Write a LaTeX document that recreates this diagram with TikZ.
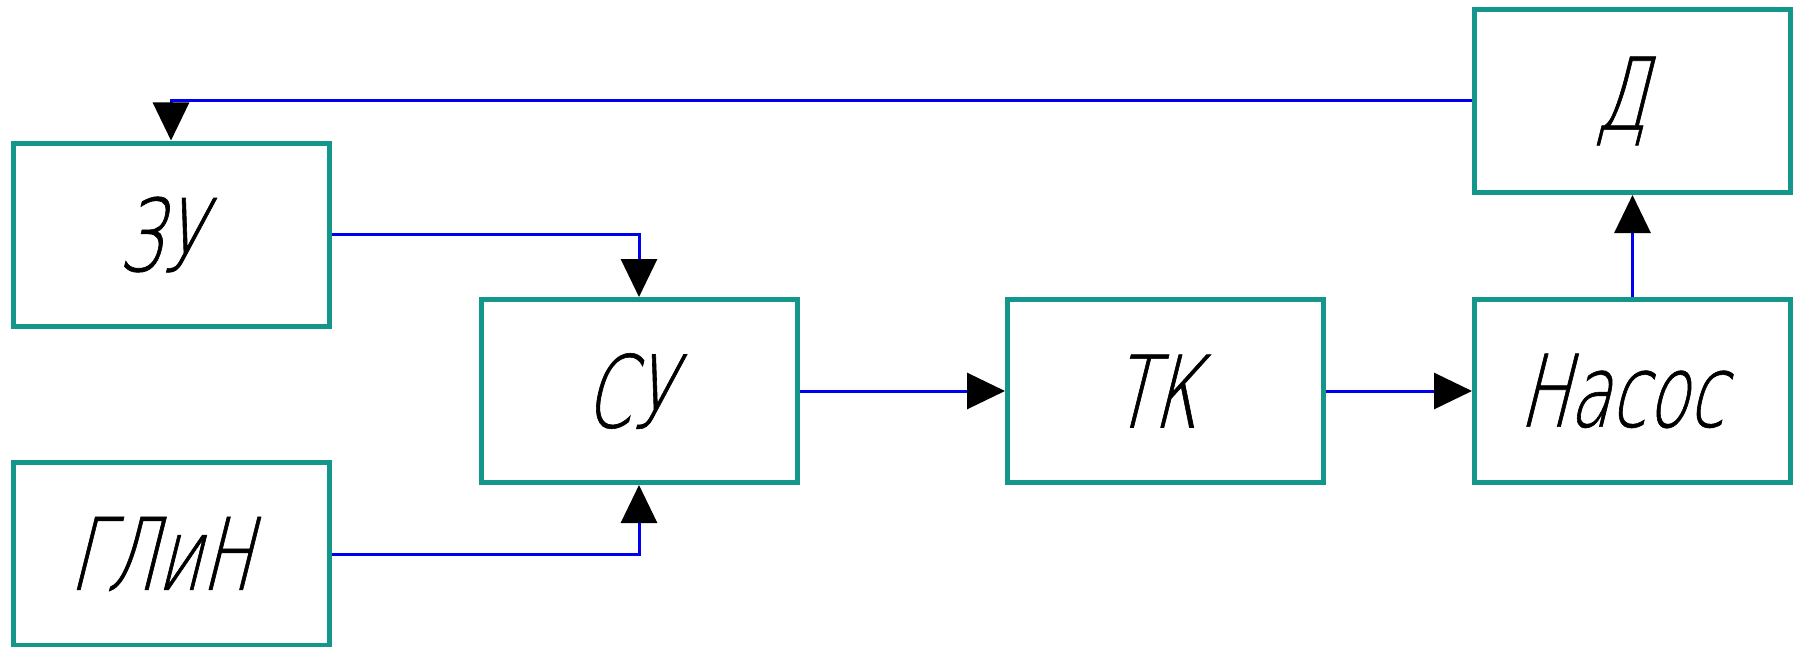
\documentclass[tikz,border=0pt]{standalone}
\usepackage{fontspec}
\usetikzlibrary{arrows.meta}
\newfontfamily\gostfont[FakeSlant=0.25,FakeStretch=0.67,FakeBold=0.6]{DejaVu Sans ExtraLight}
\definecolor{ramka}{RGB}{20,150,140}
\definecolor{liniya}{RGB}{0,0,240}
\tikzset{
    blok/.style={draw=ramka, line width=2.5pt, fill=white, minimum width=158pt,
        minimum height=91.5pt, inner sep=0pt, execute at begin node=\kern-11pt,
        font=\gostfont\fontsize{50}{50}\selectfont},
    svyaz/.style={draw=liniya, line width=1.5pt, -{Triangle[length=19pt,width=18pt,fill=black,color=black]}}
}
\begin{document}
\begin{tikzpicture}[x=0.5pt,y=-0.5pt]
                        \useasboundingbox (0,0) rectangle (1798,647);
                        \node[blok] (zu) at (171,234.5) {ЗУ};
                        \node[blok] (glin) at (171,554) {ГЛиН};
                        \node[blok] (su) at (639,391) {СУ};
                        \node[blok] (tk) at (1165.5,391) {ТК};
                        \node[blok] (nasos) at (1632.5,391) {Насос};
                        \node[blok] (d) at (1632.5,101) {Д};

                        \draw[svyaz] (d.west) -| (zu.north);
                        \draw[svyaz] (zu.east) -| (su.north);
                        \draw[svyaz] (glin.east) -| (su.south);
                        \draw[svyaz] (su) -- (tk);
                        \draw[svyaz] (tk) -- (nasos);
                        \draw[svyaz] (nasos) -- (d);
                    \end{tikzpicture}
\end{document}
